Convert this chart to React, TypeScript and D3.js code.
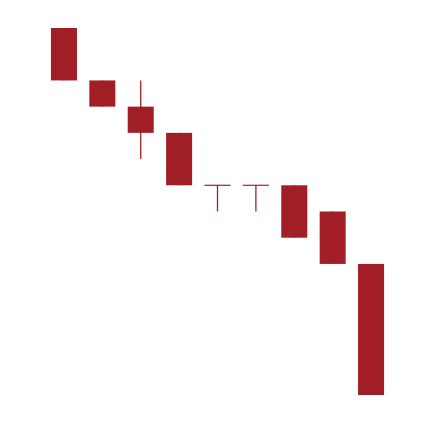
import React from 'react';
import * as d3 from 'd3';

// candle data (one unit per step)
const days = ['d1', 'd2', 'd3', 'd4', 'd5', 'd6', 'd7', 'd8', 'd9'];
const opens = [10, 8, 7, 6, 4, 4, 4, 3, 1];
const highs = [10, 8, 8, 6, 4, 4, 4, 3, 1];
const lows = [8, 7, 5, 4, 3, 3, 2, 1, -4];
const closes = [8, 7, 6, 4, 4, 4, 2, 1, -4];

const width = 434;
const height = 422;
const color = '#a11e27';

const App = () => {
  const xScale = d3.scaleBand<string>()
    .domain(days)
    .range([44.8, 390.2])
    .paddingInner(0.3225)
    .paddingOuter(0.16);

  const yScale = d3.scaleLinear()
    .domain([-4, 10])
    .range([395, 28]);

  const bw = xScale.bandwidth();

  return (
    <svg
      width={width}
      height={height}
      style={{ position: 'absolute', left: 0, top: 0, background: '#fff' }}
    >
      {days.map((d, i) => {
        const x = xScale(d) as number;
        const cx = x + bw / 2;
        const top = yScale(Math.max(opens[i], closes[i]));
        const bottom = yScale(Math.min(opens[i], closes[i]));
        const isDoji = opens[i] === closes[i];
        return (
          <g key={d}>
            {/* wick */}
            {(highs[i] !== lows[i]) && (
              <line
                x1={cx}
                x2={cx}
                y1={yScale(highs[i])}
                y2={yScale(lows[i])}
                stroke={color}
                strokeWidth={1.3}
              />
            )}
            {isDoji ? (
              <line x1={x} x2={x + bw} y1={top} y2={top} stroke={color} strokeWidth={1.2} />
            ) : (
              <rect x={x} y={top} width={bw} height={bottom - top} fill={color} />
            )}
          </g>
        );
      })}
    </svg>
  );
};

export default App;
